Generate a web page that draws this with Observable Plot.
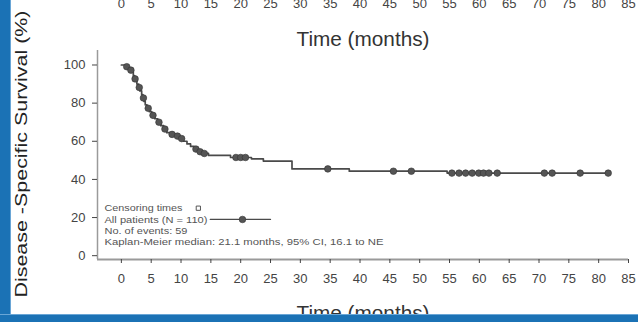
<!DOCTYPE html>
<html><head><meta charset="utf-8">
<script src="https://cdn.jsdelivr.net/npm/d3@7"></script>
<script src="https://cdn.jsdelivr.net/npm/@observablehq/plot@0.6"></script>
<style>
html,body{margin:0;padding:0;background:#fff;}
#wrap{position:relative;width:638px;height:322px;overflow:hidden;background:#fff;}
#wrap svg{position:absolute;left:0;top:0;}
.bl{position:absolute;left:0;top:0;width:10px;height:322px;background:#1b72b5;border-right:1px solid #6aa6d6;}
.bb{position:absolute;left:0;bottom:0;width:638px;height:7px;background:#1b72b5;border-top:1px solid #6aa6d6;}
</style></head><body><div id="wrap"></div>
<script>
// Kaplan-Meier step curve (time in months, survival in %)
const stepTimes = [0, 0.6, 1.0, 1.4, 1.8, 2.0, 2.2, 2.4, 2.6, 2.9, 3.1, 3.4, 3.6, 3.8, 4.0, 4.3, 4.7, 5.1, 5.6, 6.1, 6.6, 7.1, 7.6, 8.2, 9.0, 9.8, 10.4, 11.0, 11.6, 12.2, 12.9, 13.6, 14.6, 18.3, 21.8, 23.8, 28.6, 38.2, 54.6, 81.6];
const stepSurv  = [100, 99.1, 98.2, 97.3, 96.4, 94.5, 92.7, 91.8, 90.0, 88.2, 86.4, 84.5, 82.7, 80.9, 79.1, 77.3, 75.5, 73.6, 71.8, 70.0, 68.2, 66.4, 64.5, 63.6, 62.7, 61.4, 60.0, 58.6, 57.3, 55.9, 54.5, 53.6, 52.6, 51.5, 50.8, 49.6, 45.5, 44.3, 43.3, 43.3];
// Censoring times (months)
const censorTimes = [0.9, 1.6, 2.3, 3.0, 3.7, 4.5, 5.3, 6.3, 7.3, 8.5, 9.4, 10.1, 12.5, 13.2, 13.9, 19.2, 20.0, 20.8, 34.6, 45.6, 48.6, 55.4, 56.6, 57.7, 58.8, 59.9, 60.7, 61.6, 63.0, 70.9, 72.2, 76.9, 81.6];
const xTicks = [0, 5, 10, 15, 20, 25, 30, 35, 40, 45, 50, 55, 60, 65, 70, 75, 80, 85];
const yTicks = [0, 20, 40, 60, 80, 100];
const xTitle = "Time (months)";
const yTitle = "Disease -Specific Survival (%)";
const legendLines = ["Censoring times", "All patients (N = 110)", "No. of events: 59", "Kaplan-Meier median: 21.1 months, 95% CI, 16.1 to NE"];

const curve = stepTimes.map((t, i) => ({t, s: stepSurv[i]}));
const survAt = t => stepSurv[Math.max(0, d3.bisectRight(stepTimes, t) - 1)];
const censors = censorTimes.map(t => ({t, s: survAt(t)}));

// legend layout (in plot coordinates)
const legX = -2.83;
const legY = [24.9, 19.0, 13.2, 7.4];
const legRows = legendLines.map((label, i) => ({label, x: legX, y: legY[i]}));

const font = "Liberation Sans, Arial, Helvetica, sans-serif";
const chart = Plot.plot({
  width: 638, height: 322,
  marginLeft: 97, marginRight: 10, marginTop: 50, marginBottom: 63,
  x: {domain: [-4, 85], axis: null},
  y: {domain: [-2, 107.6], axis: null},
  style: {fontFamily: font, background: "transparent"},
  marks: [
    Plot.ruleX([-4], {stroke: "#9a9a9a", strokeWidth: 1.5}),
    Plot.ruleY([-2], {stroke: "#9a9a9a", strokeWidth: 2}),
    Plot.axisY({ticks: yTicks, tickSize: 5, tickPadding: 7, fontSize: 13, color: "#444", label: null}),
    Plot.axisX({ticks: xTicks, tickSize: 4, tickPadding: 10, fontSize: 13, color: "#444", label: null}),
    // remnant of the chart above
    Plot.text(xTicks, {x: d => d, frameAnchor: "top", dy: -51.5, lineAnchor: "top", fontSize: 13, fill: "#444"}),
    Plot.text([xTitle], {frameAnchor: "top-left", textAnchor: "start", dx: 199, dy: -19, lineAnchor: "top", fontSize: 20, fill: "#333"}),
    Plot.text([xTitle], {frameAnchor: "bottom-left", textAnchor: "start", dx: 199, dy: 46, lineAnchor: "top", fontSize: 20, fill: "#333"}),
    Plot.text([yTitle], {frameAnchor: "left", textAnchor: "start", dx: -76, dy: 142.5, rotate: -90, fontSize: 17, fill: "#222"}),
    // curve
    Plot.line(curve, {x: "t", y: "s", curve: "step-after", stroke: "#4a4a4a", strokeWidth: 1.7}),
    Plot.dot(censors, {x: "t", y: "s", r: 3.3, fill: "#555", stroke: "#333", strokeWidth: 0.6}),
    // legend
    Plot.text(legRows, {x: "x", y: "y", text: "label", textAnchor: "start", fontSize: 9.5, fill: "#555"}),
    Plot.dot([{x: 12.9, y: legY[0]}], {x: "x", y: "y", symbol: "square", r: 2.4, fill: "white", stroke: "#444", strokeWidth: 0.9}),
    Plot.line([{x: 14.9, y: legY[1]}, {x: 25.0, y: legY[1]}], {x: "x", y: "y", stroke: "#4a4a4a", strokeWidth: 1.2}),
    Plot.dot([{x: 20.3, y: legY[1]}], {x: "x", y: "y", r: 3.3, fill: "#555", stroke: "#333", strokeWidth: 0.6})
  ]
});

// stretch a few texts to the widths seen in the scan
const lengths = new Map([
  [xTitle, 133], [yTitle, 287],
  [legendLines[0], 78], [legendLines[1], 103], [legendLines[2], 83], [legendLines[3], 279]
]);
d3.select(chart).selectAll("text").each(function() {
  const s = this.textContent;
  if (lengths.has(s)) d3.select(this).attr("textLength", lengths.get(s)).attr("lengthAdjust", "spacingAndGlyphs");
});

const wrap = document.getElementById("wrap");
wrap.appendChild(chart);
const bl = document.createElement("div"); bl.className = "bl"; wrap.appendChild(bl);
const bb = document.createElement("div"); bb.className = "bb"; wrap.appendChild(bb);
</script></body></html>
